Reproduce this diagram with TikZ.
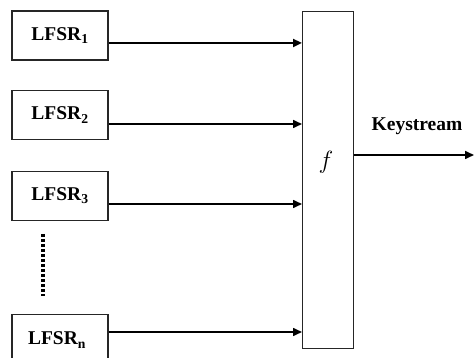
\documentclass[tikz,border=0pt]{standalone}
\usepackage{fontspec}
\setmainfont{Liberation Serif}
\usetikzlibrary{arrows.meta}
\begin{document}
\begin{tikzpicture}[x=1pt,y=-1pt,
  lbox/.style={draw=black!85,line width=1.3pt,minimum width=96pt,minimum height=49pt,inner sep=0pt,font=\fontsize{19.5}{21}\selectfont\bfseries},
  conn/.style={line width=1.6pt,-{Triangle[length=9pt,width=8pt]}},
  lbl/.style={font=\fontsize{19.5}{21}\selectfont\bfseries}]
\useasboundingbox (0,0) rectangle (474,358);
\clip (0,0) rectangle (474,358);
\node[lbox] (l1) at (60,35.5) {LFSR\textsubscript{1}};
\node[lbox] (l2) at (60,115) {LFSR\textsubscript{2}};
\node[lbox] (l3) at (60,196) {LFSR\textsubscript{3}};
\node[lbox,minimum height=60pt,anchor=north] (ln) at (60,314) {};
\node[lbl] (tn) at (57,340) {LFSR\textsubscript{n}};
\node[draw=black!85,line width=1.3pt,minimum width=51pt,minimum height=337pt,inner sep=0pt,anchor=north west] (f) at (302,11) {};
\node[font=\fontsize{24}{26}\selectfont] (fl) at (326,162) {$f$};
\coordinate (o) at (474,155);
\node[lbl] (ks) at (417,126) {Keystream};
\draw[conn,line width=2.4pt] (l1.east |- 0,43) -- (f.west |- 0,43);
\draw[conn] (l2.east |- 0,124) -- (f.west |- 0,124);
\draw[conn] (l3.east |- 0,204) -- (f.west |- 0,204);
\draw[conn] (ln.east |- 0,332) -- (f.west |- 0,332);
\draw[conn] (f.east |- o) -- (o);
\coordinate (d1) at (43,234);
\coordinate (d2) at (43,296);
\draw[line width=3.2pt,dash pattern=on 3pt off 2pt] (d1) -- (d2);
\end{tikzpicture}
\end{document}
